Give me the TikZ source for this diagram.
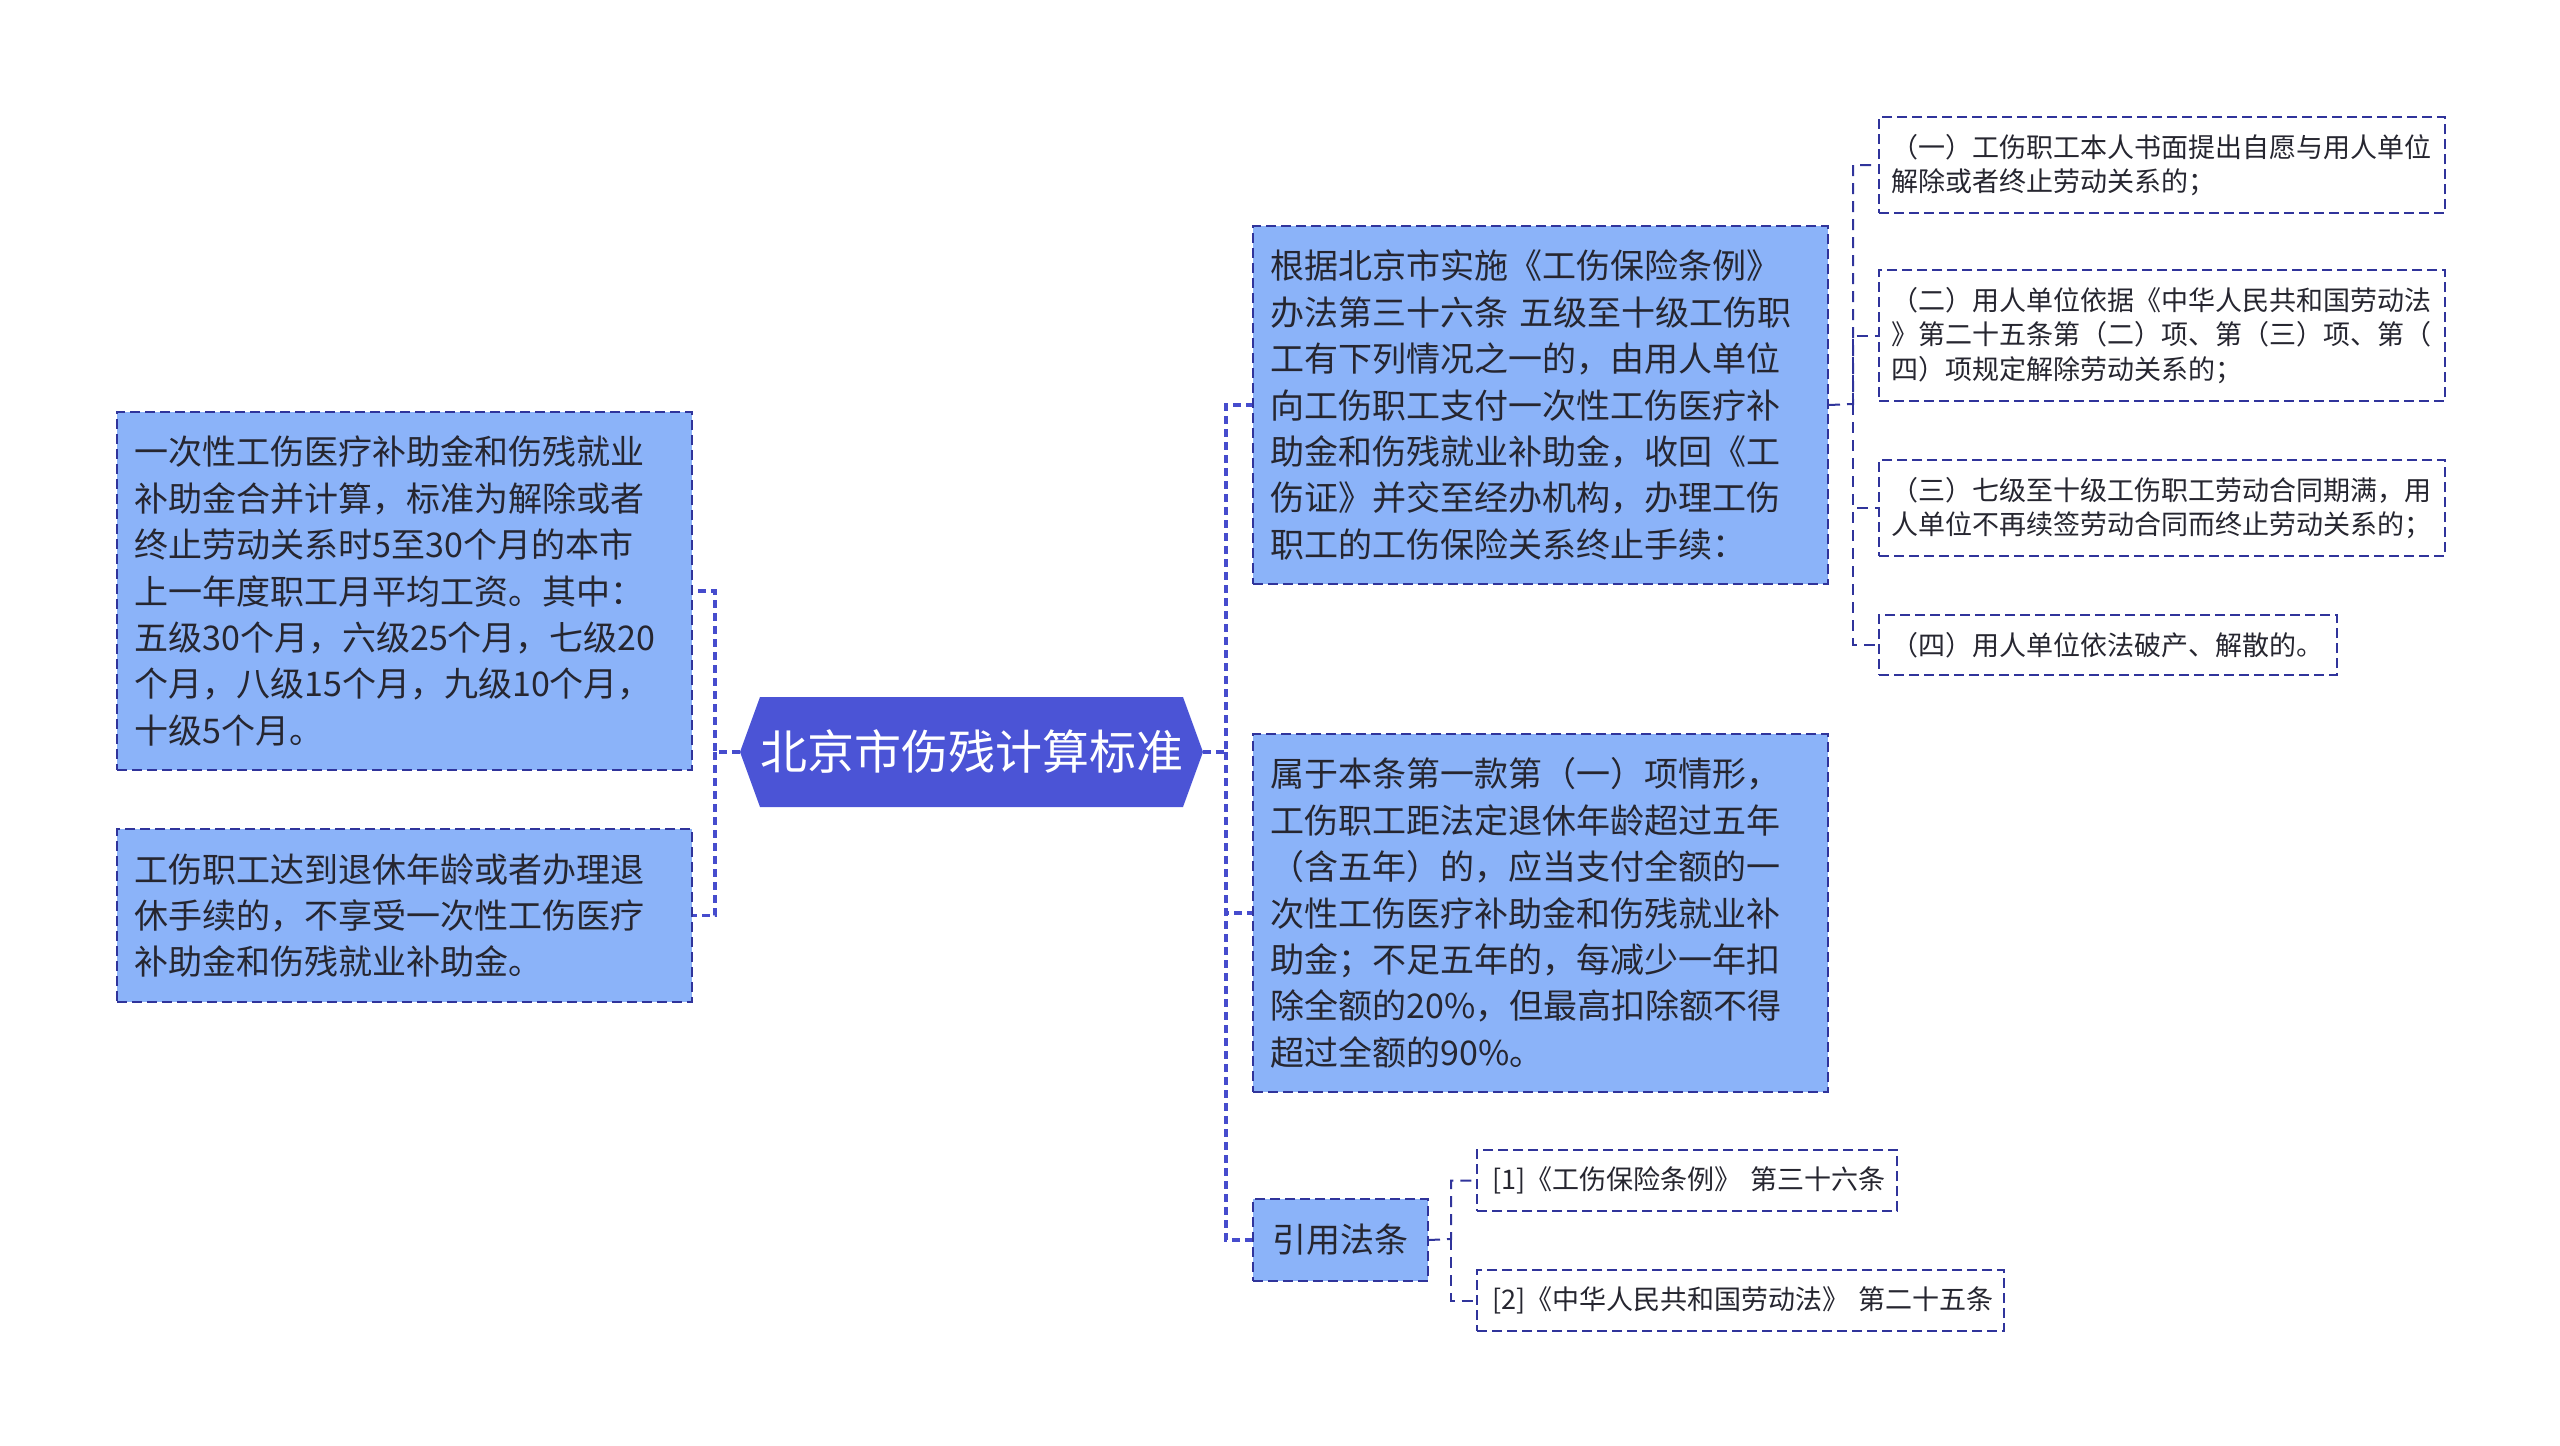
\documentclass[tikz,border=0pt]{standalone}
\usepackage{fontspec}
\setmainfont{Noto Sans CJK SC}
\newfontfamily\cjk{Noto Sans CJK SC}
\definecolor{boxfill}{RGB}{139,179,249}
\definecolor{bordercol}{RGB}{48,52,155}
\definecolor{rootfill}{RGB}{75,84,214}
\definecolor{conncol}{RGB}{70,76,205}
\definecolor{txtcol}{RGB}{38,38,48}
\begin{document}
\begin{tikzpicture}[x=1pt,y=-1pt,
  bigbox/.style={draw=bordercol, line width=2pt, dash pattern=on 10pt off 5pt,
    fill=boxfill, text=txtcol, font=\cjk\fontsize{34}{46.4}\selectfont,
    align=left, text width=540pt, inner xsep=17.5pt, inner ysep=0pt, anchor=north west},
  smallbox/.style={draw=bordercol, line width=2pt, dash pattern=on 10pt off 5pt,
    fill=white, text=txtcol, font=\cjk\fontsize{27}{34.3}\selectfont,
    align=left, inner xsep=12pt, inner ysep=0pt, anchor=north west},
  rootbox/.style={minimum width=463pt, minimum height=110pt, inner sep=0pt,
    text=white, font=\cjk\fontsize{47}{52}\selectfont,
    path picture={\fill[rootfill] (path picture bounding box.west)
      -- ([xshift=20pt]path picture bounding box.north west)
      -- ([xshift=-20pt]path picture bounding box.north east)
      -- (path picture bounding box.east)
      -- ([xshift=-20pt]path picture bounding box.south east)
      -- ([xshift=20pt]path picture bounding box.south west) -- cycle;}},
  mainconn/.style={draw=conncol, line width=3.5pt, dash pattern=on 8pt off 5pt},
  subconn/.style={draw=bordercol, line width=2pt, dash pattern=on 11pt off 7pt}
]
\useasboundingbox (0,0) rectangle (2560,1446);

% root
\node[rootbox] (root) at (971.5,752) {北京市伤残计算标准};

% left boxes
\node[bigbox, minimum height=358pt] (L1) at (116,411) {一次性工伤医疗补助金和伤残就业\\补助金合并计算，标准为解除或者\\终止劳动关系时5至30个月的本市\\上一年度职工月平均工资。其中：\\五级30个月，六级25个月，七级20\\个月，八级15个月，九级10个月，\\十级5个月。};
\node[bigbox, minimum height=173pt] (L2) at (116,828) {工伤职工达到退休年龄或者办理退\\休手续的，不享受一次性工伤医疗\\补助金和伤残就业补助金。};

% right boxes
\node[bigbox, minimum height=358pt] (R1) at (1252,225) {根据北京市实施《工伤保险条例》\\办法第三十六条 五级至十级工伤职\\工有下列情况之一的，由用人单位\\向工伤职工支付一次性工伤医疗补\\助金和伤残就业补助金，收回《工\\伤证》并交至经办机构，办理工伤\\职工的工伤保险关系终止手续：};
\node[bigbox, minimum height=358pt] (R2) at (1252,733) {属于本条第一款第（一）项情形，\\工伤职工距法定退休年龄超过五年\\（含五年）的，应当支付全额的一\\次性工伤医疗补助金和伤残就业补\\助金；不足五年的，每减少一年扣\\除全额的20\%，但最高扣除额不得\\超过全额的90\%。};
\node[bigbox, text width=, align=center, minimum width=175pt, minimum height=82pt, inner xsep=0pt] (R3) at (1252,1198) {引用法条};

% children of R1
\node[smallbox, text width=542pt, minimum height=96pt] (C1) at (1878,116) {（一）工伤职工本人书面提出自愿与用人单位\\解除或者终止劳动关系的；};
\node[smallbox, text width=542pt, minimum height=131pt] (C2) at (1878,269) {（二）用人单位依据《中华人民共和国劳动法\\》第二十五条第（二）项、第（三）项、第（\\四）项规定解除劳动关系的；};
\node[smallbox, text width=542pt, minimum height=96pt] (C3) at (1878,459) {（三）七级至十级工伤职工劳动合同期满，用\\人单位不再续签劳动合同而终止劳动关系的；};
\node[smallbox, text width=434pt, minimum height=60pt] (C4) at (1878,614) {（四）用人单位依法破产、解散的。};

% references
\node[smallbox, text width=390pt, inner xsep=15pt, minimum height=61pt] (F1) at (1476,1149) {\mbox{[1]《工伤保险条例》 第三十六条}};
\node[smallbox, text width=497pt, inner xsep=15pt, minimum height=61pt] (F2) at (1476,1269) {\mbox{[2]《中华人民共和国劳动法》 第二十五条}};

% connectors
\coordinate (lj) at (715,752);
\coordinate (rj) at (1226,752);
\draw[mainconn] (root.west) -- (lj) |- (L1.east);
\draw[mainconn] (lj) |- (L2.east);
\draw[mainconn] (root.east) -- (rj) |- (R1.west);
\draw[mainconn] (rj) |- (R2.west);
\draw[mainconn] (rj) |- (R3.west);

\coordinate (cj) at (1853,404);
\draw[subconn] (R1.east) -- (cj) |- (C1.west);
\draw[subconn] (cj) |- (C2.west);
\draw[subconn] (cj) |- (C3.west);
\draw[subconn] (cj) |- (C4.west);

\coordinate (fj) at (1451,1239);
\draw[subconn] (R3.east) -- (fj) |- (F1.west);
\draw[subconn] (fj) |- (F2.west);
\end{tikzpicture}
\end{document}
